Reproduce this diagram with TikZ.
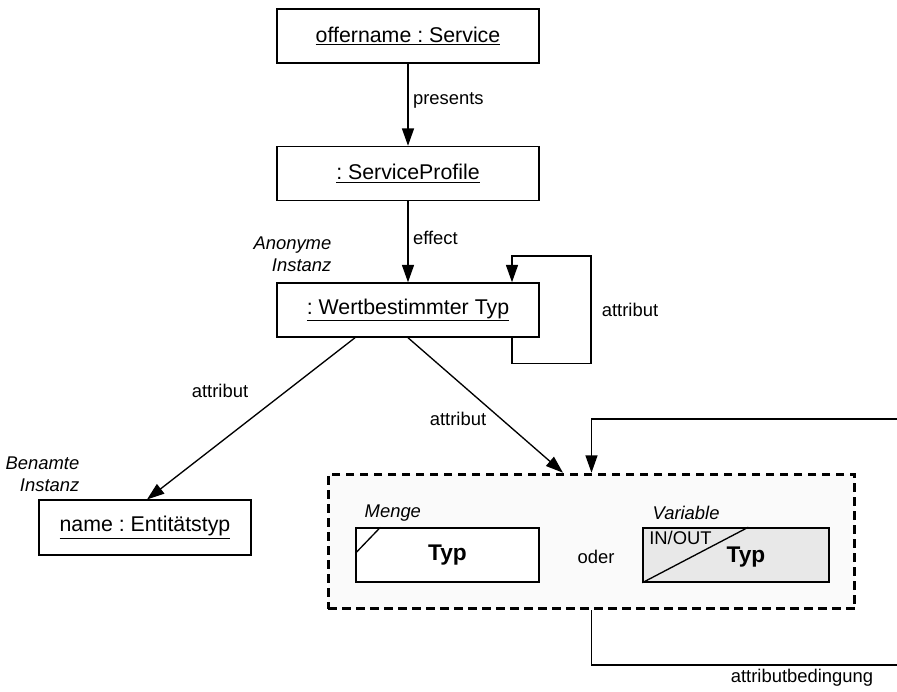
\documentclass[tikz,border=0pt]{standalone}
\usepackage{fontspec}
\setmainfont{Liberation Sans}
\usetikzlibrary{arrows.meta,calc}
\frenchspacing

\tikzset{
  >={Triangle[length=13pt,width=9pt]},
  every node/.style={font=\fontsize{13.8}{16.5}\selectfont},
  obj/.style={draw, line width=1.1pt, fill=white, inner sep=0pt, minimum width=196.5pt, minimum height=40.5pt, font=\fontsize{16}{19}\selectfont},
  note/.style={font=\fontsize{13.8}{16.5}\selectfont\itshape},
  conn/.style={line width=1pt}
}

\begin{document}
\begin{tikzpicture}[x=0.75pt, y=-0.75pt]
          \useasboundingbox (0,0) rectangle (897,692);
          \node[obj] (svc) at (408,36) {\underline{offername : Service}};
          \node[obj] (prof) at (408,173.5) {\underline{: ServiceProfile}};
          \node[obj] (wert) at (408,310) {\underline{: Wertbestimmter Typ}};
          \node[obj, minimum width=159pt, minimum height=41pt] (ent) at (145,527.5) {\underline{name : Entitätstyp}};
          \node[note, align=right, anchor=east] (anon) at (336,254) {Anonyme\\Instanz};
          \node[note, align=right, anchor=east] (benannt) at (84,474) {Benamte\\Instanz};
          \node[draw, dash pattern=on 6.5pt off 4pt, line width=2.2pt, fill=black!2, minimum width=395pt, minimum height=101pt] (cont) at (591.5,541.5) {};
          \node[obj, minimum width=137pt, font=\fontsize{17}{20}\selectfont\bfseries] (menge) at (447.5,555) {Typ};
          \draw[line width=1pt] ($(menge.north west)+(0,26)$) -- ($(menge.north west)+(25,0)$);
          \node[note, anchor=west] (mengelbl) at (360,513) {Menge};
          \node (oder) at (596,557) {oder};
          \node[obj, fill=black!9, minimum width=139.5pt] (var) at (736,555) {};
          \draw[line width=1pt] (var.south west) -- ($(var.north west)+(106,0)$);
          \node[font=\fontsize{17}{20}\selectfont\bfseries] (vartyp) at (746,557) {Typ};
          \node[anchor=west, inner sep=0pt] (inout) at (649,538) {IN/OUT};
          \node[note, anchor=west] (varlbl) at (648,513) {Variable};
          \draw[conn, ->] (svc) -- node[right, pos=0.45] {presents} (prof);
          \draw[conn, ->] (prof) -- node[right, pos=0.45] {effect} (wert);
          \draw[conn, ->] ([xshift=78pt]wert.south) -- ++(0,26) -| (591,256) -| ([xshift=78pt]wert.north);
          \node (selfattr) at (630,310) {attribut};
          \draw[conn, ->] ([xshift=-39.75pt]wert.south) -- ([xshift=1.5pt]ent.north);
          \node (attr1) at (220,391) {attribut};
          \draw[conn, ->] (wert.south) -- ([xshift=-21.4pt]cont.north);
          \node (attr2) at (458,419) {attribut};
          \coordinate (inR) at (897,419);
          \coordinate (outR) at (897,665);
          \draw[conn, ->] (inR) -| (cont.north);
          \draw[conn] (cont.south) |- (outR);
          \node (bed) at (802,678) {attributbedingung};
      \end{tikzpicture}
\end{document}
